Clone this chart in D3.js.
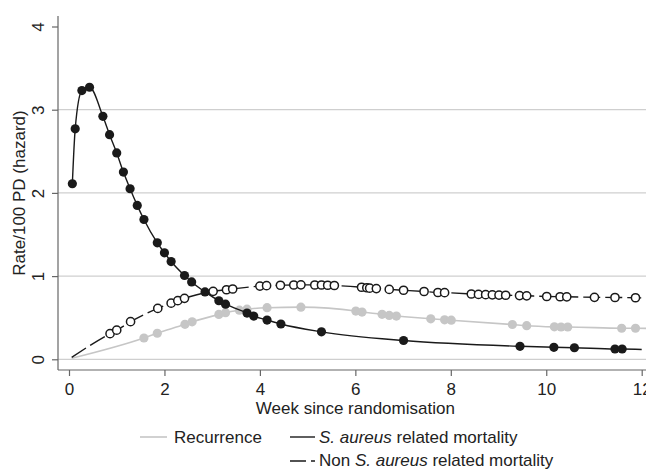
<!DOCTYPE html>
<meta charset="utf-8">
<style>
body { margin: 0; background: #fff; }
svg text { font-family: "Liberation Sans", Arial, sans-serif; fill: #222; }
.grid line { stroke: #cfcfcf; stroke-width: 1.2px; }
.axis path, .axis line { stroke: #666; stroke-width: 1.2px; }
</style>
<body>
<script src="https://d3js.org/d3.v7.min.js"></script>
<script>
// tick values
var xTicks = [0, 2, 4, 6, 8, 10, 12];
var yTicks = [0, 1, 2, 3, 4];

// S. aureus related mortality (filled black)
var saWeek = [0.07, 0.13, 0.27, 0.43, 0.71, 0.85, 1.00, 1.14, 1.28, 1.43, 1.57, 1.85, 2.00, 2.14,
              2.42, 2.57, 2.85, 3.14, 3.28, 3.73, 3.87, 4.15, 4.44, 5.29, 7.01, 9.45, 10.16, 10.59, 11.44, 11.59];
var saRate = [2.11, 2.77, 3.23, 3.27, 2.92, 2.70, 2.48, 2.25, 2.05, 1.85, 1.68, 1.40, 1.28, 1.175,
              1.007, 0.93, 0.81, 0.704, 0.662, 0.556, 0.52, 0.472, 0.424, 0.33, 0.226, 0.156, 0.144, 0.139, 0.124, 0.124];
var saEnd = [12.0, 0.118];

// Non S. aureus related mortality (hollow)
var nonWeek = [0.86, 1.00, 1.29, 1.86, 2.14, 2.28, 2.42, 3.02, 3.30, 3.43, 4.00, 4.14, 4.43, 4.71, 4.86,
               5.15, 5.29, 5.42, 5.56, 6.13, 6.24, 6.30, 6.44, 6.71, 7.01, 7.44, 7.73, 7.87, 8.43, 8.58,
               8.73, 8.87, 9.01, 9.15, 9.44, 9.59, 10.01, 10.29, 10.43, 11.01, 11.44, 11.87];
var nonRate = [0.308, 0.35, 0.452, 0.612, 0.675, 0.705, 0.733, 0.817, 0.836, 0.845, 0.88, 0.885, 0.89, 0.893, 0.895,
               0.893, 0.893, 0.89, 0.887, 0.866, 0.86, 0.855, 0.85, 0.84, 0.83, 0.815, 0.803, 0.801, 0.785, 0.78,
               0.777, 0.775, 0.772, 0.77, 0.766, 0.763, 0.755, 0.752, 0.751, 0.745, 0.743, 0.74];
var nonStart = [0.056, 0.024], nonEnd = [11.99, 0.738];

// Recurrence (grey)
var recWeek = [1.57, 1.85, 2.43, 2.58, 3.14, 3.28, 3.57, 3.73, 4.15, 4.86, 6.01, 6.14, 6.56, 6.71, 6.86,
               7.58, 7.87, 8.01, 9.29, 9.59, 10.17, 10.31, 10.45, 11.58, 11.87];
var recRate = [0.256, 0.313, 0.42, 0.45, 0.539, 0.56, 0.59, 0.603, 0.62, 0.627, 0.58, 0.568, 0.54, 0.527, 0.52,
               0.487, 0.475, 0.47, 0.418, 0.404, 0.39, 0.388, 0.388, 0.373, 0.373];
var recStart = [0.056, 0.012], recEnd = [12.1, 0.372];

var W = 646, H = 469;
var svg = d3.select("body").append("svg").attr("width", W).attr("height", H);

var x = d3.scaleLinear().domain([0, 12]).range([69, 641.7]);
var y = d3.scaleLinear().domain([0, 4]).range([359.3, 26.5]);

function pts(wk, rt) { return wk.map(function(d, i) { return [d, rt[i]]; }); }
var sa = pts(saWeek, saRate), non = pts(nonWeek, nonRate), rec = pts(recWeek, recRate);

// gridlines
svg.append("g").attr("class", "grid")
  .selectAll("line").data([0, 1, 2, 3]).enter().append("line")
    .attr("x1", 58).attr("x2", W)
    .attr("y1", function(d) { return y(d); }).attr("y2", function(d) { return y(d); });

// axes
var yAxis = svg.append("g").attr("class", "axis").attr("transform", "translate(58,0)")
  .call(d3.axisLeft(y).tickValues(yTicks).tickSize(6).tickSizeOuter(0).tickFormat(d3.format("d")));
yAxis.select(".domain").attr("d", "M0,16V370");
yAxis.selectAll(".tick text")
  .attr("transform", "rotate(-90)").attr("x", 0).attr("y", -14).attr("dy", 0)
  .style("text-anchor", "middle").style("font-size", "17px");

var xAxis = svg.append("g").attr("class", "axis").attr("transform", "translate(0,370)")
  .call(d3.axisBottom(x).tickValues(xTicks).tickSize(6).tickSizeOuter(0));
xAxis.select(".domain").attr("d", "M58,0H" + W);
xAxis.selectAll(".tick text").attr("y", 13).style("font-size", "17px");
svg.selectAll(".axis text").attr("fill", "#222").attr("font-family", null);

// axis titles
svg.append("text").attr("x", x(6)).attr("y", 414).style("text-anchor", "middle")
  .style("font-size", "17px").text("Week since randomisation");
svg.append("text").attr("transform", "translate(25,193) rotate(-90)").style("text-anchor", "middle")
  .style("font-size", "17px").text("Rate/100 PD (hazard)");

var line = d3.line().x(function(d) { return x(d[0]); }).y(function(d) { return y(d[1]); })
  .curve(d3.curveMonotoneX);

// recurrence
svg.append("path").datum([recStart].concat(rec, [recEnd]))
  .attr("d", line).attr("fill", "none").attr("stroke", "#c6c6c6").attr("stroke-width", 1.6);
svg.append("g").selectAll("circle").data(rec).enter().append("circle")
  .attr("cx", function(d) { return x(d[0]); }).attr("cy", function(d) { return y(d[1]); })
  .attr("r", 4.6).attr("fill", "#c6c6c6");

// S. aureus
svg.append("path").datum(sa.concat([saEnd]))
  .attr("d", line).attr("fill", "none").attr("stroke", "#1a1a1a").attr("stroke-width", 1.4);
svg.append("g").selectAll("circle").data(sa).enter().append("circle")
  .attr("cx", function(d) { return x(d[0]); }).attr("cy", function(d) { return y(d[1]); })
  .attr("r", 4.6).attr("fill", "#1a1a1a");

// non S. aureus
svg.append("path").datum([nonStart].concat(non, [nonEnd]))
  .attr("d", line).attr("fill", "none").attr("stroke", "#1a1a1a").attr("stroke-width", 1.4)
  .attr("stroke-dasharray", "17,5");
svg.append("g").selectAll("circle").data(non).enter().append("circle")
  .attr("cx", function(d) { return x(d[0]); }).attr("cy", function(d) { return y(d[1]); })
  .attr("r", 4.1).attr("fill", "#fff").attr("stroke", "#1a1a1a").attr("stroke-width", 1.5);

// legend
var lg = svg.append("g").style("font-size", "17px");
lg.append("line").attr("x1", 140).attr("x2", 167).attr("y1", 437).attr("y2", 437)
  .attr("stroke", "#c6c6c6").attr("stroke-width", 1.6);
lg.append("text").attr("x", 174).attr("y", 443).text("Recurrence");
lg.append("line").attr("x1", 290).attr("x2", 315).attr("y1", 437).attr("y2", 437)
  .attr("stroke", "#1a1a1a").attr("stroke-width", 1.4);
var t1 = lg.append("text").attr("x", 319).attr("y", 443);
t1.append("tspan").style("font-style", "italic").text("S. aureus");
t1.append("tspan").text(" related mortality");
lg.append("line").attr("x1", 290).attr("x2", 315).attr("y1", 461).attr("y2", 461)
  .attr("stroke", "#1a1a1a").attr("stroke-width", 1.4).attr("stroke-dasharray", "16,5");
var t2 = lg.append("text").attr("x", 319).attr("y", 466);
t2.append("tspan").text("Non ");
t2.append("tspan").style("font-style", "italic").text("S. aureus");
t2.append("tspan").text(" related mortality");
</script>
</body>
